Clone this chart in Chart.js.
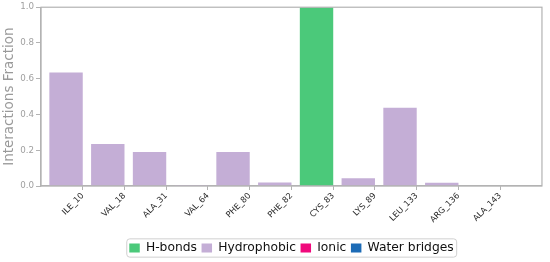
<!DOCTYPE html>
<html>
<head>
<meta charset="utf-8">
<script src="https://cdn.jsdelivr.net/npm/chart.js@4"></script>
<style>
  html, body { margin: 0; padding: 0; background: #ffffff; }
  #wrap { width: 550px; height: 262px; }
</style>
</head>
<body>
<div id="wrap"><canvas id="c" width="550" height="262"></canvas></div>
<script>
// ---- data ----
const residues = ['ILE_10', 'VAL_18', 'ALA_31', 'VAL_64', 'PHE_80', 'PHE_82', 'CYS_83', 'LYS_89', 'LEU_133', 'ARG_136', 'ALA_143'];
const hBonds      = [0, 0, 0, 0, 0, 0, 1.0, 0, 0, 0, 0];
const hydrophobic = [0.635, 0.235, 0.19, 0.006, 0.19, 0.02, 0, 0.043, 0.437, 0.018, 0];
const ionic       = [0, 0, 0, 0, 0, 0, 0, 0, 0, 0, 0];
const waterBridges= [0, 0, 0, 0, 0, 0, 0, 0, 0, 0, 0];
const yTicks = [0.0, 0.2, 0.4, 0.6, 0.8, 1.0];

const seriesNames = ['H-bonds', 'Hydrophobic', 'Ionic', 'Water bridges'];
const seriesColors = ['#4bc97a', '#c4aed6', '#f0097c', '#1c6bb6'];
const seriesValues = [hBonds, hydrophobic, ionic, waterBridges];

// axis labels: one empty slot on each side so the plot spans [-1, 11]
const axisLabels = [''].concat(residues, ['']);

const datasets = seriesNames.map((name, k) => ({
  label: name,
  data: residues.map((r, i) => ({ x: r, y: seriesValues[k][i] })),
  backgroundColor: seriesColors[k],
  borderWidth: 0,
  stack: 'main',
  categoryPercentage: 1.6,
  barPercentage: 1.0
}));
// empty second stack so the bars sit left of their tick
datasets.push({ label: '_pad', data: [], stack: 'pad', categoryPercentage: 1.6, barPercentage: 1.0 });

const GRAY = '#b3b3b3';

const framePlugin = {
  id: 'frame',
  afterDraw(chart) {
    const ctx = chart.ctx;
    const a = chart.chartArea;
    ctx.save();
    ctx.strokeStyle = GRAY;
    ctx.lineWidth = 1.2;
    ctx.strokeRect(a.left, a.top, a.right - a.left, a.bottom - a.top);
    // legend frame
    const boxes = chart.legend && chart.legend.legendHitBoxes;
    if (boxes && boxes.length) {
      let l = Infinity, r = -Infinity, t = Infinity, b = -Infinity;
      boxes.forEach(h => {
        l = Math.min(l, h.left); r = Math.max(r, h.left + h.width);
        t = Math.min(t, h.top); b = Math.max(b, h.top + h.height);
      });
      l -= 2.5; r += 3; t -= 3; b += 3;
      const rad = 3;
      ctx.strokeStyle = '#d0d0d0';
      ctx.lineWidth = 1;
      ctx.beginPath();
      ctx.moveTo(l + rad, t);
      ctx.lineTo(r - rad, t); ctx.quadraticCurveTo(r, t, r, t + rad);
      ctx.lineTo(r, b - rad); ctx.quadraticCurveTo(r, b, r - rad, b);
      ctx.lineTo(l + rad, b); ctx.quadraticCurveTo(l, b, l, b - rad);
      ctx.lineTo(l, t + rad); ctx.quadraticCurveTo(l, t, l + rad, t);
      ctx.stroke();
    }
    ctx.restore();
  }
};

new Chart(document.getElementById('c'), {
  type: 'bar',
  data: { labels: axisLabels, datasets: datasets },
  options: {
    responsive: false,
    animation: false,
    events: [],
    layout: { padding: { top: 6, right: 3, bottom: 0, left: 0 } },
    plugins: {
      tooltip: { enabled: false },
      legend: {
        position: 'bottom',
        fullSize: false,
        maxHeight: 24.75,
        labels: {
          filter: item => item.datasetIndex < seriesNames.length,
          boxWidth: 10.5,
          boxHeight: 9,
          padding: 4.6,
          color: '#111111',
          font: { family: 'DejaVu Sans', size: 12.3 }
        }
      }
    },
    scales: {
      x: {
        type: 'category',
        offset: false,
        stacked: true,
        grid: {
          offset: false,
          drawOnChartArea: false,
          tickLength: 4,
          tickColor: ctx => (ctx.index === 0 || ctx.index === axisLabels.length - 1) ? 'rgba(0,0,0,0)' : GRAY
        },
        border: { color: GRAY, width: 1.2 },
        ticks: {
          autoSkip: false,
          minRotation: 45,
          maxRotation: 45,
          padding: 1,
          color: '#2a2a2a',
          font: { family: 'DejaVu Sans', size: 8.3 }
        },
        afterFit: s => { s.height = 51.25; }
      },
      y: {
        stacked: true,
        min: 0,
        max: 1,
        afterBuildTicks: s => { s.ticks = yTicks.map(v => ({ value: v })); },
        grid: { drawOnChartArea: false, tickLength: 5, tickColor: GRAY },
        border: { color: GRAY, width: 1.2 },
        ticks: {
          padding: 2,
          color: '#a0a0a0',
          font: { family: 'DejaVu Sans', size: 8.7 },
          callback: v => Number(v).toFixed(1)
        },
        title: {
          display: true,
          text: 'Interactions Fraction',
          color: '#9a9a9a',
          padding: { top: 1, bottom: 0 },
          font: { family: 'DejaVu Sans', size: 13.5, lineHeight: 1.2 }
        },
        afterFit: s => { s.width = 41; }
      }
    }
  },
  plugins: [framePlugin]
});
</script>
</body>
</html>
